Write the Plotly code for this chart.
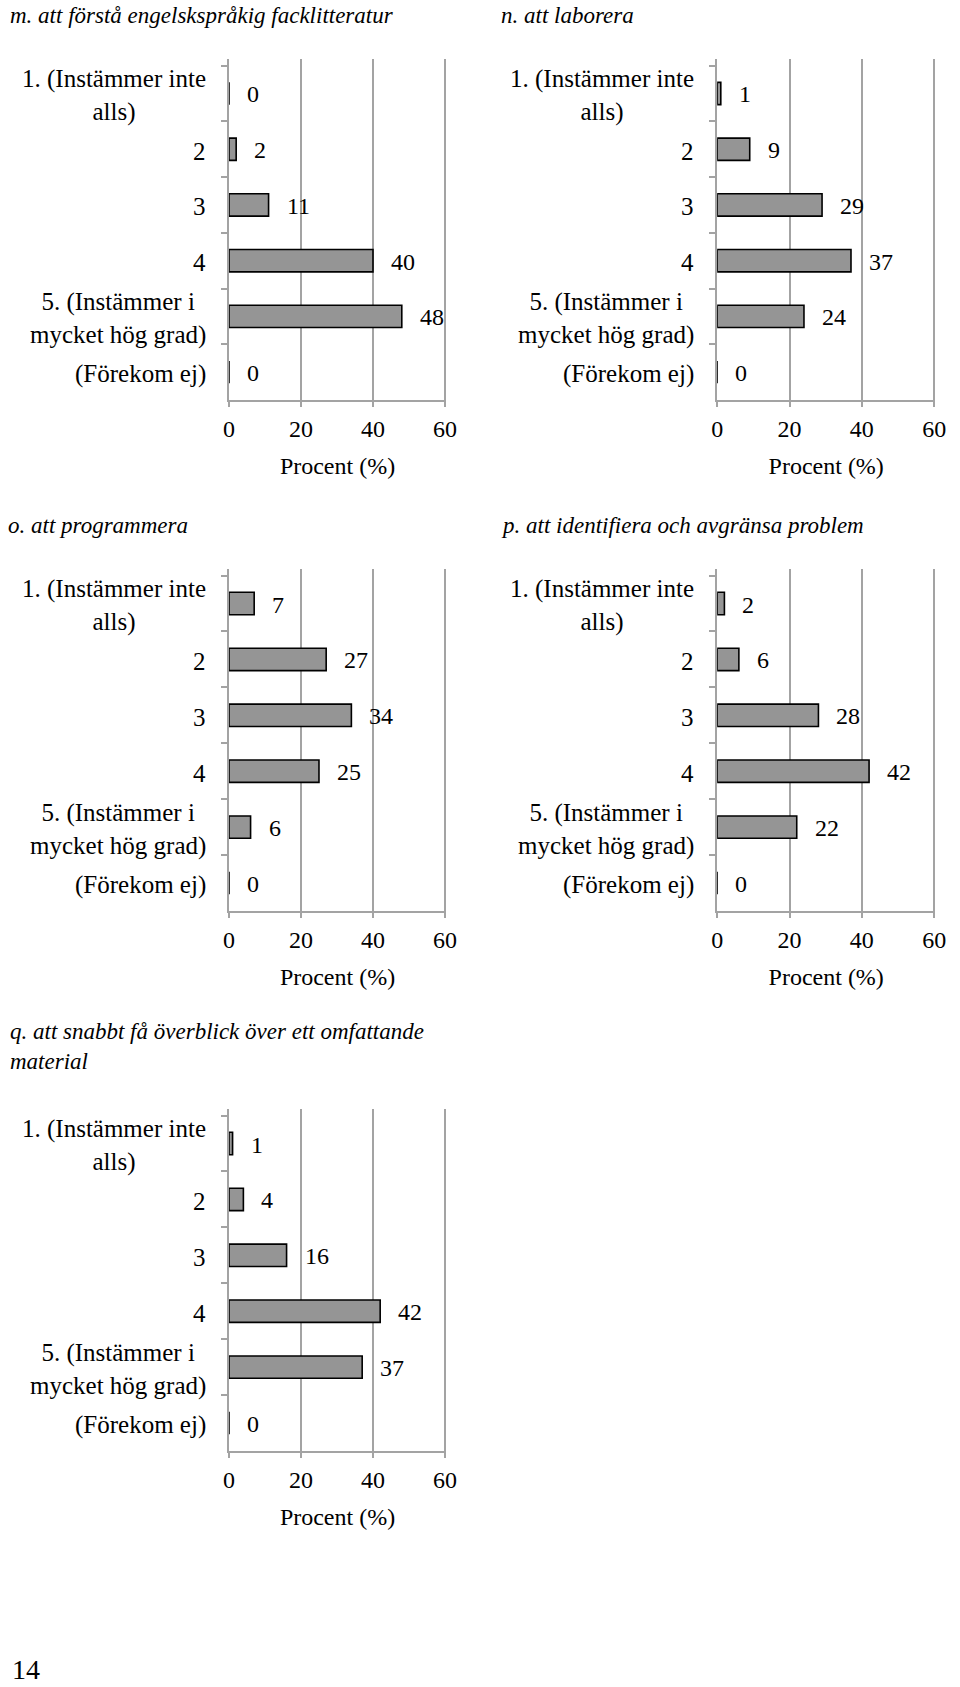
import plotly.graph_objects as go

# ---------------- data ----------------
categories = [
    "1. (Instämmer inte alls)",
    "2",
    "3",
    "4",
    "5. (Instämmer i mycket hög grad)",
    "(Förekom ej)",
]
category_labels = [
    "1. (Instämmer inte<br>alls)",
    "2",
    "3",
    "4",
    "5. (Instämmer i<br>mycket hög grad)",
    "(Förekom ej)",
]
titles = [
    "m. att förstå engelskspråkig facklitteratur",
    "n. att laborera",
    "o. att programmera",
    "p. att identifiera och avgränsa problem",
    "q. att snabbt få överblick över ett omfattande<br>material",
]
values_m = [0, 2, 11, 40, 48, 0]
values_n = [1, 9, 29, 37, 24, 0]
values_o = [7, 27, 34, 25, 6, 0]
values_p = [2, 6, 28, 42, 22, 0]
values_q = [1, 4, 16, 42, 37, 0]
x_tickvals = [0, 20, 40, 60]
x_title = "Procent (%)"
page_number = "14"

series = [values_m, values_n, values_o, values_p, values_q]

# ---------------- layout (pixel boxes, page coordinates) ----------------
W, H = 960, 1687

# (left, right, top, bottom) of each plot area in page pixels
boxes = [
    (227, 448, 59, 400),
    (724, 946, 59, 400),
    (227, 448, 569, 911),
    (724, 946, 569, 911),
    (227, 448, 1109, 1451),
]
# title positions (x left, y center of first line), page pixels
title_pos = [(2, 15), (502, 15), (0, 525), (502, 525), (2, 1031)]


def px(xp):
    return xp / W


def py(yp):
    return 1 - yp / H


FONT = "Liberation Serif"
GRID = "#a3a3a3"

fig = go.Figure()
layout = dict(
    width=W, height=H, margin=dict(l=0, r=0, t=0, b=0),
    paper_bgcolor="white", plot_bgcolor="white",
    showlegend=False, bargap=0.6,
    font=dict(family=FONT, size=24, color="black"),
)
annotations = []

for i, (vals, box) in enumerate(zip(series, boxes)):
    n = "" if i == 0 else str(i + 1)
    xa, ya = "x" + n, "y" + n
    l, r, t, b = box
    fig.add_trace(go.Bar(
        x=vals, y=categories, orientation="h",
        xaxis=xa, yaxis=ya,
        marker=dict(color="#959595", line=dict(color="black", width=1.6)),
        hoverinfo="x+y",
    ))
    layout["xaxis" + n] = dict(
        domain=[px(l), px(r)], anchor=ya, range=[0, 60.3],
        tickvals=x_tickvals, showgrid=True, gridcolor=GRID, gridwidth=2,
        showline=True, linecolor=GRID, linewidth=2, zeroline=False,
        ticks="outside", ticklen=5, tickcolor=GRID, tickwidth=2,
        ticklabelstandoff=1,
        tickfont=dict(family=FONT, size=24, color="black"),
        title=dict(text=x_title, standoff=16,
                   font=dict(family=FONT, size=24, color="black")),
        fixedrange=True,
    )
    layout["yaxis" + n] = dict(
        domain=[py(b), py(t)], anchor=xa, type="category",
        categoryorder="array", categoryarray=categories,
        autorange="reversed", showticklabels=False,
        tickson="boundaries", ticks="outside", ticklen=6, tickcolor=GRID,
        tickwidth=2, showline=True, linecolor=GRID, linewidth=2,
        showgrid=False, zeroline=False, fixedrange=True,
    )
    # category labels (centered multi-line), placed by category index
    for k, lab in enumerate(category_labels):
        annotations.append(dict(
            xref=xa + " domain", yref=ya, x=0, y=k, text=lab,
            xanchor="right", yanchor="middle", align="center",
            xshift=-21, yshift=-2, showarrow=False,
            font=dict(family=FONT, size=25, color="black"),
        ))
    # value labels
    for k, v in enumerate(vals):
        annotations.append(dict(
            xref=xa, yref=ya, x=v, y=k, text=str(v),
            xanchor="left", yanchor="middle", xshift=16, yshift=-1,
            showarrow=False,
            font=dict(family=FONT, size=24, color="black"),
        ))
    # panel title
    tx, ty = title_pos[i]
    annotations.append(dict(
        xref="paper", yref="paper", x=px(tx), y=py(ty - 14),
        text="<i>" + titles[i] + "</i>", xanchor="left", yanchor="top",
        align="left", showarrow=False,
        font=dict(family=FONT, size=23, color="black"),
    ))

annotations.append(dict(
    xref="paper", yref="paper", x=px(4), y=0, text=page_number,
    xanchor="left", yanchor="bottom", showarrow=False,
    font=dict(family=FONT, size=28, color="black"),
))

layout["annotations"] = annotations
fig.update_layout(**layout)
fig.write_html(
    "out.html",
    config={"displayModeBar": False},
    post_script="document.body.style.margin='0';document.body.style.padding='0';",
)
